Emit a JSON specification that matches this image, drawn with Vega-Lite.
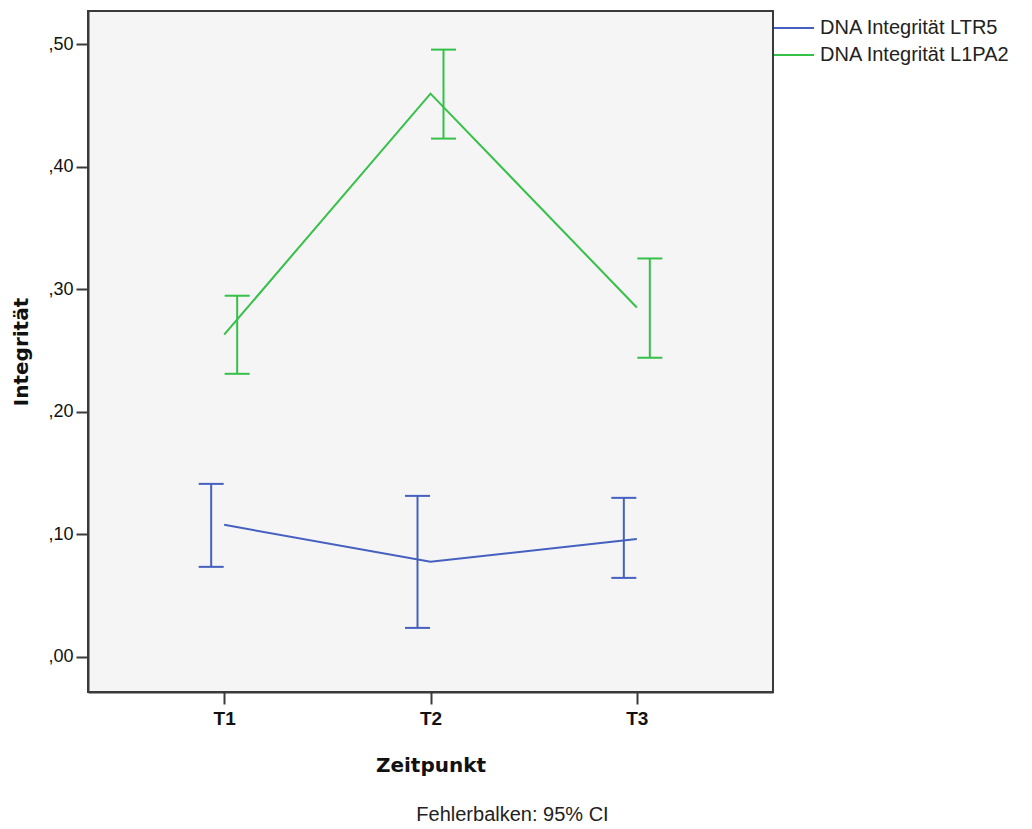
{
  "$schema": "https://vega.github.io/schema/vega-lite/v6.json",
  "autosize": "none",
  "width": 685,
  "height": 681,
  "padding": {"left": 88, "top": 11, "right": 259, "bottom": 137},
  "background": "white",
  "title": {
    "text": "Fehlerbalken: 95% CI",
    "orient": "bottom",
    "anchor": "middle",
    "frame": "group",
    "dx": 82,
    "offset": 30,
    "font": "Liberation Sans",
    "fontSize": 20,
    "fontWeight": "normal",
    "color": "#222222"
  },
  "config": {
    "view": {"fill": "#f5f5f5", "stroke": "#3a3a3a", "strokeWidth": 2},
    "axis": {"grid": false, "domainColor": "#3a3a3a", "domainWidth": 2, "tickColor": "#3a3a3a", "tickWidth": 2, "tickSize": 12, "labelColor": "#111111", "titleColor": "#111111"}
  },
  "data": {
    "values": [
      {"series": "DNA Integrität LTR5", "time": "T1", "mean": 0.1078, "lo": 0.0735, "hi": 0.1412},
      {"series": "DNA Integrität LTR5", "time": "T2", "mean": 0.0776, "lo": 0.0237, "hi": 0.1314},
      {"series": "DNA Integrität LTR5", "time": "T3", "mean": 0.0963, "lo": 0.0645, "hi": 0.1298},
      {"series": "DNA Integrität L1PA2", "time": "T1", "mean": 0.2629, "lo": 0.2310, "hi": 0.2947},
      {"series": "DNA Integrität L1PA2", "time": "T2", "mean": 0.4596, "lo": 0.4229, "hi": 0.4955},
      {"series": "DNA Integrität L1PA2", "time": "T3", "mean": 0.2851, "lo": 0.2441, "hi": 0.3251}
    ]
  },
  "encoding": {
    "x": {
      "field": "time", "type": "ordinal",
      "scale": {"type": "point", "domain": ["T1", "T2", "T3"], "padding": 0.66},
      "axis": {"title": "Zeitpunkt", "labelAngle": 0, "labelFont": "Liberation Sans", "labelFontWeight": "bold", "labelFontSize": 19, "labelPadding": 5, "titleFont": "DejaVu Sans", "titleFontSize": 20, "titleFontWeight": "bold", "titlePadding": 27}
    },
    "color": {
      "field": "series", "type": "nominal",
      "scale": {"domain": ["DNA Integrität LTR5", "DNA Integrität L1PA2"], "range": ["#4560c0", "#35c048"]},
      "legend": {"title": null, "orient": "none", "legendX": 685, "legendY": -4, "symbolType": "stroke", "symbolSize": 1600, "symbolStrokeWidth": 2, "labelFont": "Liberation Sans", "labelFontSize": 20, "labelLimit": 300, "labelColor": "#222222", "labelOffset": 5, "rowPadding": -4, "gridAlign": "none", "padding": 0}
    }
  },
  "layer": [
    {
      "mark": {"type": "line", "strokeWidth": 2},
      "encoding": {
        "y": {
          "field": "mean", "type": "quantitative",
          "scale": {"domain": [-0.0286, 0.527], "nice": false, "zero": false},
          "axis": {"title": "Integrität", "values": [0, 0.1, 0.2, 0.3, 0.4, 0.5], "labelExpr": "replace(format(datum.value, '.2f'), '0.', ',')", "labelFont": "Liberation Sans", "labelFontSize": 18, "labelPadding": 3, "titleFont": "DejaVu Sans", "titleFontSize": 20, "titleFontWeight": "bold", "titlePadding": 16}
        }
      }
    },
    {
      "transform": [{"filter": "datum.series === 'DNA Integrität LTR5'"}],
      "mark": {"type": "rule", "strokeWidth": 2, "xOffset": -13},
      "encoding": {"y": {"field": "lo", "type": "quantitative"}, "y2": {"field": "hi"}}
    },
    {
      "transform": [{"filter": "datum.series === 'DNA Integrität LTR5'"}],
      "mark": {"type": "tick", "thickness": 2, "size": 25, "xOffset": -13, "opacity": 1},
      "encoding": {"y": {"field": "lo", "type": "quantitative"}}
    },
    {
      "transform": [{"filter": "datum.series === 'DNA Integrität LTR5'"}],
      "mark": {"type": "tick", "thickness": 2, "size": 25, "xOffset": -13, "opacity": 1},
      "encoding": {"y": {"field": "hi", "type": "quantitative"}}
    },
    {
      "transform": [{"filter": "datum.series === 'DNA Integrität L1PA2'"}],
      "mark": {"type": "rule", "strokeWidth": 2, "xOffset": 13},
      "encoding": {"y": {"field": "lo", "type": "quantitative"}, "y2": {"field": "hi"}}
    },
    {
      "transform": [{"filter": "datum.series === 'DNA Integrität L1PA2'"}],
      "mark": {"type": "tick", "thickness": 2, "size": 25, "xOffset": 13, "opacity": 1},
      "encoding": {"y": {"field": "lo", "type": "quantitative"}}
    },
    {
      "transform": [{"filter": "datum.series === 'DNA Integrität L1PA2'"}],
      "mark": {"type": "tick", "thickness": 2, "size": 25, "xOffset": 13, "opacity": 1},
      "encoding": {"y": {"field": "hi", "type": "quantitative"}}
    }
  ]
}
